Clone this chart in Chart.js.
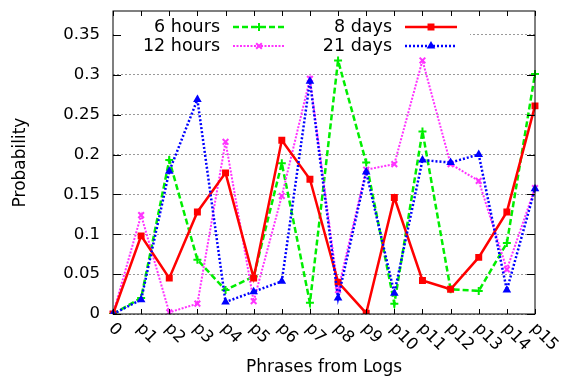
<!DOCTYPE html>
<html>
<head>
<meta charset="utf-8">
<script src="https://cdn.jsdelivr.net/npm/chart.js@4/dist/chart.umd.min.js"></script>
<style>
  html, body { margin: 0; padding: 0; background: #fff; }
</style>
</head>
<body>
<canvas id="chart" width="562" height="381"></canvas>
<script>
// DATA -----------------------------------------------------------------------

const phrases = ['0', 'p1', 'p2', 'p3', 'p4', 'p5', 'p6', 'p7', 'p8', 'p9', 'p10', 'p11', 'p12', 'p13', 'p14', 'p15'];

const sixHours      = [0, 0.020, 0.193, 0.068, 0.030, 0.047, 0.189, 0.014, 0.318, 0.190, 0.013, 0.229, 0.031, 0.029, 0.089, 0.301];
const twelveHours   = [0, 0.124, 0.002, 0.013, 0.216, 0.016, 0.148, 0.295, 0.030, 0.181, 0.188, 0.318, 0.188, 0.167, 0.056, 0.158];
const eightDays     = [0, 0.098, 0.045, 0.128, 0.177, 0.045, 0.218, 0.169, 0.040, 0.001, 0.146, 0.042, 0.031, 0.071, 0.128, 0.261];
const twentyOneDays = [0, 0.018, 0.179, 0.269, 0.015, 0.028, 0.041, 0.292, 0.020, 0.178, 0.026, 0.193, 0.190, 0.200, 0.030, 0.157];

const yMin = 0
const yMax = 0.38
const yStep = 0.05

// SETTINGS -------------------------------------------------------------------

const FONT = '"DejaVu Sans", sans-serif'

const series = {
    six: {name: '6 hours', color: '#00ee00', dash: [6, 3], width: 2.5, point: 'cross', radius: 4},
    twelve: {name: '12 hours', color: '#ff33ff', dash: [2, 1.5], width: 2, point: 'crossRot', radius: 4},
    eight: {name: '8 days', color: '#ff0000', dash: [], width: 2.5, point: 'rect', radius: 3.5},
    twentyOne: {name: '21 days', color: '#0000ff', dash: [2, 2], width: 2.5, point: 'triangle', radius: 3}
}

function getDataset(type, data, order) {
    const s = series[type]
    return {
        label: s.name,
        data: data,
        borderColor: s.color,
        backgroundColor: s.color,
        borderDash: s.dash,
        borderWidth: s.width,
        pointStyle: s.point,
        pointRadius: s.radius,
        pointBorderWidth: 2,
        pointBorderColor: s.color,
        pointBackgroundColor: s.color,
        tension: 0,
        order: order
    }
}

// PLUGIN: gnuplot-like frame, inward ticks, rotated labels, legend ------------

const legendSlots = [[220, 27], [220, 46], [392, 27], [392, 46]]

const gnuplotFrame = {
    id: 'gnuplotFrame',
    beforeDatasetsDraw(chart) {
        const {ctx, chartArea: a} = chart
        // the key box hides the grid behind it
        ctx.save()
        ctx.fillStyle = '#fff'
        ctx.fillRect(a.left + 1, a.top + 1, 356, 44)
        ctx.restore()
    },
    afterDraw(chart) {
        const {ctx, chartArea: a, scales: {x, y}} = chart
        ctx.save()
        ctx.strokeStyle = '#000'
        ctx.lineWidth = 1
        ctx.setLineDash([])
        ctx.strokeRect(a.left, a.top, a.right - a.left, a.bottom - a.top)
        ctx.beginPath()
        x.ticks.forEach((t, i) => {
            const px = Math.round(x.getPixelForTick(i)) + 0.5
            ctx.moveTo(px, a.bottom); ctx.lineTo(px, a.bottom - 5)
            ctx.moveTo(px, a.top); ctx.lineTo(px, a.top + 5)
        })
        y.ticks.forEach((t, i) => {
            const py = Math.round(y.getPixelForTick(i)) + 0.5
            ctx.moveTo(a.left, py); ctx.lineTo(a.left + 8, py)
            ctx.moveTo(a.right, py); ctx.lineTo(a.right - 8, py)
        })
        ctx.stroke()

        // rotated category labels
        ctx.fillStyle = '#000'
        ctx.font = '16.5px ' + FONT
        ctx.textAlign = 'left'
        ctx.textBaseline = 'middle'
        phrases.forEach((p, i) => {
            const px = x.getPixelForTick(i)
            ctx.save()
            ctx.translate(px - 2, a.bottom + 12)
            ctx.rotate(Math.PI / 4)
            ctx.fillText(p, 0, 0)
            ctx.restore()
        })

        // key
        ctx.font = '17.5px ' + FONT
        ctx.textAlign = 'right'
        chart.data.datasets.forEach((ds, i) => {
            const [lx, ly] = legendSlots[i]
            ctx.fillStyle = '#000'
            ctx.fillText(ds.label, lx, ly)
            ctx.save()
            ctx.strokeStyle = ds.borderColor
            ctx.lineWidth = ds.borderWidth
            ctx.setLineDash(ds.borderDash)
            ctx.beginPath()
            ctx.moveTo(lx + 13, ly)
            ctx.lineTo(lx + 65, ly)
            ctx.stroke()
            ctx.setLineDash([])
            ctx.fillStyle = ds.pointBackgroundColor
            ctx.lineWidth = ds.pointBorderWidth
            if (Chart.helpers && Chart.helpers.drawPoint) {
                Chart.helpers.drawPoint(ctx, {
                    pointStyle: ds.pointStyle,
                    radius: ds.pointRadius,
                    rotation: 0,
                    borderWidth: ds.pointBorderWidth
                }, lx + 39, ly)
            }
            ctx.restore()
        })
        ctx.restore()
    }
}

// CHART ----------------------------------------------------------------------

new Chart(document.getElementById('chart'), {
    type: 'line',
    data: {
        labels: phrases,
        datasets: [
            getDataset('six', sixHours, 4),
            getDataset('twelve', twelveHours, 3),
            getDataset('eight', eightDays, 2),
            getDataset('twentyOne', twentyOneDays, 1)
        ]
    },
    options: {
        responsive: false,
        animation: false,
        layout: {
            padding: {top: 11, right: 27, left: 0, bottom: 0}
        },
        plugins: {
            legend: {display: false},
            tooltip: {enabled: false}
        },
        scales: {
            x: {
                offset: false,
                grid: {display: false, drawTicks: false},
                border: {display: false},
                ticks: {display: false},
                title: {
                    display: true,
                    text: 'Phrases from Logs',
                    color: '#000',
                    font: {family: FONT, size: 17},
                    padding: {top: 0, bottom: 3}
                },
                afterFit(scale) {
                    scale.height = 67
                    scale.paddingLeft = 0
                    scale.paddingRight = 0
                }
            },
            y: {
                min: yMin,
                max: yMax,
                grid: {color: '#999', lineWidth: 1, drawTicks: false},
                border: {display: false, dash: [2, 2]},
                ticks: {
                    stepSize: yStep,
                    includeBounds: false,
                    padding: 13,
                    color: '#000',
                    font: {family: FONT, size: 16.5},
                    callback: (v) => String(+v.toFixed(2))
                },
                title: {
                    display: true,
                    text: 'Probability',
                    color: '#000',
                    font: {family: FONT, size: 17},
                    padding: {top: 10, bottom: 0}
                },
                afterFit(scale) {
                    scale.width = 113
                    scale.paddingTop = 0
                    scale.paddingBottom = 0
                }
            }
        }
    },
    plugins: [gnuplotFrame]
});
</script>
</body>
</html>
